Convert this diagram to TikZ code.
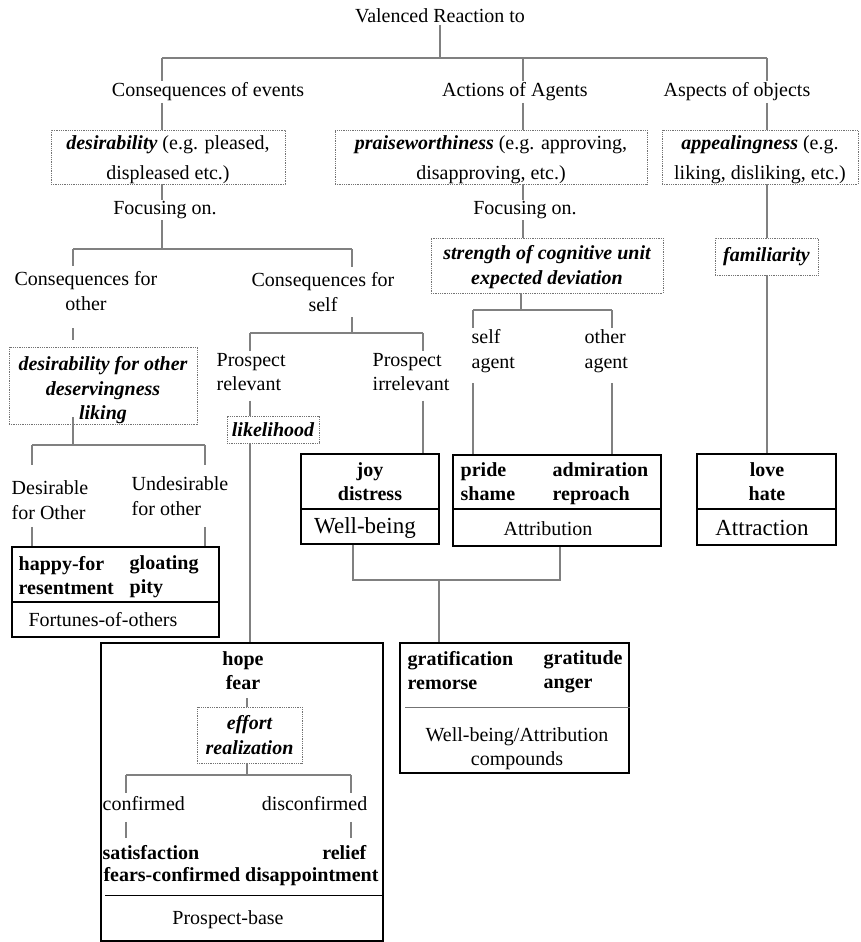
\documentclass[tikz,border=0pt]{standalone}
\usepackage{fontspec}
\setmainfont{Liberation Serif}
\begin{document}
\begin{tikzpicture}[x=1pt,y=-1pt,
  every node/.style={font=\fontsize{20}{24.5}\selectfont},
  conn/.style={draw=black!50, line width=1.1pt},
  lbl/.style={inner sep=1.5pt, align=center},
  lblL/.style={inner sep=1.5pt, align=left, anchor=west},
  lblR/.style={inner sep=1.5pt, align=right, anchor=east},
  big/.style={inner sep=1.5pt, font=\fontsize{23}{27}\selectfont},
  dotbox/.style={draw=black!55, dash pattern=on 0.9pt off 0.9pt, line width=0.7pt, inner sep=0pt, align=center},
  emobox/.style={draw=black, line width=1.8pt, inner sep=0pt},
  emo/.style={inner sep=1.5pt, font=\fontsize{20}{24}\selectfont\bfseries},
  emocol/.style={emo, align=left, anchor=west, text depth=5pt},
  divline/.style={draw=black!55, line width=1pt},
  key/.style={font=\fontsize{20}{24.5}\selectfont\bfseries\itshape}
]
\useasboundingbox (0,0) rectangle (860,942);

% ---- top level
\node[lbl] (root) at (440,16) {Valenced Reaction to};
\node[lbl] (cev) at (208,92) {Consequences of events};
\node[lbl] (aoa) at (515,92) {Actions of Agents};
\node[lbl] (aob) at (737,92) {Aspects of objects};

\node[dotbox, minimum width=234, minimum height=54] (d1) at (168,157)
  {\rule{0pt}{19pt}{\bfseries\itshape desirability} (e.g. pleased,\\[5pt]displeased etc.)};
\node[dotbox, minimum width=312, minimum height=54] (d2) at (491,157)
  {\rule{0pt}{19pt}{\bfseries\itshape praiseworthiness} (e.g. approving,\\[5pt]disapproving, etc.)};
\node[dotbox, minimum width=196, minimum height=54] (d3) at (760,157)
  {\rule{0pt}{19pt}{\bfseries\itshape appealingness} (e.g.\\[5pt]liking, disliking, etc.)};

\node[lbl] (fo1) at (165,210) {Focusing on.};
\node[lbl] (fo2) at (525,210) {Focusing on.};

% ---- events branch
\node[lbl] (cfo) at (86,291) {Consequences for\\other};
\node[lbl] (cfs) at (323,292) {Consequences for\\self};

\node[dotbox, key, minimum width=188, minimum height=73] (dother) at (103,385.5)
  {\rule{0pt}{24pt}desirability for other\\deservingness\\liking};

\node[lblL] (desO) at (10,500) {Desirable\\for Other};
\node[lblL] (undO) at (130,496) {Undesirable\\for other};

\node[emobox, minimum width=207, minimum height=55] (fot) at (115.5,574.5) {};
\node[emobox, minimum width=207, minimum height=35] (fob) at (115.5,619.5) {};
\node[emocol] (hf) at (17,577.5) {happy-for\\resentment};
\node[emocol] (gl) at (128,577.5) {gloating\\pity};
\node[lbl] (fotx) at (103,620) {Fortunes-of-others};

\node[lblL] (pr) at (215,372) {Prospect\\relevant};
\node[lblL] (pi) at (371,372) {Prospect\\irrelevant};
\node[dotbox, key, minimum width=92, minimum height=27] (lik) at (273,429.5) {likelihood};

\node[emobox, minimum width=138, minimum height=55] (wbt) at (370,481.5) {};
\node[emobox, minimum width=138, minimum height=35] (wbb) at (370,526.5) {};
\node[emo, align=center] (jd) at (370,482) {joy\\distress};
\node[big] (wbx) at (365,528) {Well-being};

% ---- agents branch
\node[dotbox, key, minimum width=232, minimum height=55] (str) at (547,265.5)
  {\rule{0pt}{17pt}strength of cognitive unit\\expected deviation};
\node[lblL] (sa) at (470,351) {self\\agent};
\node[lblL] (oa) at (583,351) {other\\agent};

\node[emobox, minimum width=208, minimum height=54] (att) at (557,482) {};
\node[emobox, minimum width=208, minimum height=37] (attb) at (557,527.5) {};
\node[emocol] (ps) at (459,484.5) {pride\\shame};
\node[emocol] (ar) at (551,484.5) {admiration\\reproach};
\node[lbl] (attx) at (548,529) {Attribution};

% ---- objects branch
\node[dotbox, key, minimum width=103, minimum height=37] (fam) at (766.5,256.5) {familiarity};
\node[emobox, minimum width=139, minimum height=55] (atr) at (766.5,481.5) {};
\node[emobox, minimum width=139, minimum height=36] (atrb) at (766.5,527) {};
\node[emo, align=center] (lh) at (767,482) {love\\hate};
\node[big] (atrx) at (762,528) {Attraction};

% ---- compounds
\node[emobox, minimum width=229, minimum height=130] (comp) at (514.5,708) {};
\node[emocol] (gr) at (406,672.5) {gratification\\remorse};
\node[emocol] (ga) at (542,672.5) {gratitude\\anger};
\node[lbl] (compx) at (517,748.5) {Well-being/Attribution\\compounds};
\coordinate (cdiv) at (405,707);
\draw[divline] (cdiv) -- (cdiv -| comp.east);

% ---- prospect-based
\node[emobox, minimum width=282, minimum height=298] (pb) at (242,792) {};
\node[emo, align=center] (hope) at (243,671) {hope\\fear};
\node[dotbox, key, minimum width=105, minimum height=56] (eff) at (249.5,735) {effort\\realization};
\node[lblL] (conf) at (101,804) {confirmed};
\node[lblR] (disc) at (369,804) {disconfirmed};
\node[emo, anchor=west] (sat) at (101,853) {satisfaction};
\node[emo, anchor=east] (rel) at (368,853) {relief};
\node[emo] (fcd) at (241,877) {fears-confirmed disappointment};
\coordinate (pdiv) at (105,895);
\draw[draw=black, line width=1pt] (pdiv) -- (pdiv -| pb.east);
\node[lbl] (pbx) at (228,920) {Prospect-base};

% ---- junction points
\coordinate (j0) at (440,58);
\coordinate (jL) at (162,58);
\coordinate (jM) at (523,58);
\coordinate (jR) at (767,58);
\coordinate (jF) at (162,249);
\coordinate (jFo) at (73,249);
\coordinate (jFs) at (352,249);
\coordinate (jS) at (352,333);
\coordinate (jSr) at (250,333);
\coordinate (jSi) at (423,333);
\coordinate (jO) at (73,445);
\coordinate (jOl) at (32,445);
\coordinate (jOr) at (205,445);
\coordinate (jA) at (521,310);
\coordinate (jAs) at (473,310);
\coordinate (jAo) at (612,310);
\coordinate (jC) at (439,580);
\coordinate (jC1) at (353,580);
\coordinate (jC2) at (560,580);
\coordinate (jH) at (247,698);
\coordinate (jE) at (247,775);
\coordinate (jEc) at (126,775);
\coordinate (jEd) at (351,775);

% ---- connectors
\draw[conn] (root.south) -- (j0);
\draw[conn] (jL) -- (jR);
\draw[conn] (jL) -- (jL |- cev.north);
\draw[conn] (jL |- cev.south) -- (jL |- d1.north);
\draw[conn] (jM) -- (jM |- aoa.north);
\draw[conn] (jM |- aoa.south) -- (jM |- d2.north);
\draw[conn] (jR) -- (jR |- aob.north);
\draw[conn] (jR |- aob.south) -- (jR |- d3.north);

\draw[conn] (jL |- d1.south) -- (jL |- fo1.north);
\draw[conn] (jL |- fo1.south) -- (jF);
\draw[conn] (jFo) -- (jFs);
\draw[conn,shorten >=4pt] (jFo) -- (jFo |- cfo.north);
\draw[conn,shorten <=16pt,shorten >=7pt] (jFo |- cfo.south) -- (jFo |- dother.north);
\draw[conn,shorten >=4pt] (jFs) -- (jFs |- cfs.north);
\draw[conn,shorten <=4pt] (jFs |- cfs.south) -- (jS);
\draw[conn] (jSr) -- (jSi);
\draw[conn] (jSr) -- (jSr |- pr.north);
\draw[conn] (jSi) -- (jSi |- pi.north);
\draw[conn,shorten <=8pt] (jSr |- pr.south) -- (jSr |- lik.north);
\draw[conn] (jSr |- lik.south) -- (jSr |- pb.north);
\draw[conn,shorten <=8pt] (jSi |- pi.south) -- (jSi |- wbt.north);

\draw[conn,shorten <=-7pt] (jFo |- dother.south) -- (jO);
\draw[conn] (jOl) -- (jOr);
\draw[conn,shorten >=14pt] (jOl) -- (jOl |- desO.north);
\draw[conn,shorten >=10pt] (jOr) -- (jOr |- undO.north);
\draw[conn,shorten <=6pt] (jOl |- desO.south) -- (jOl |- fot.north);
\draw[conn,shorten <=10pt] (jOr |- undO.south) -- (jOr |- fot.north);

\draw[conn] (jM |- d2.south) -- (jM |- fo2.north);
\draw[conn] (jM |- fo2.south) -- (jM |- str.north);
\draw[conn] (jA |- str.south) -- (jA);
\draw[conn] (jAs) -- (jAo);
\draw[conn] (jAs) -- (jAs |- sa.north);
\draw[conn] (jAo) -- (jAo |- oa.north);
\draw[conn,shorten <=9pt] (jAs |- sa.south) -- (jAs |- att.north);
\draw[conn,shorten <=9pt] (jAo |- oa.south) -- (jAo |- att.north);

\draw[conn] (jR |- d3.south) -- (jR |- fam.north);
\draw[conn] (jR |- fam.south) -- (jR |- atr.north);

\draw[conn] (jC1 |- wbb.south) -- (jC1) -- (jC2) -- (jC2 |- attb.south);
\draw[conn] (jC) -- (jC |- comp.north);

\draw[conn] (jH) -- (jH |- eff.north);
\draw[conn] (jH |- eff.south) -- (jE);
\draw[conn] (jEc) -- (jEd);
\draw[conn,shorten >=2pt] (jEc) -- (jEc |- conf.north);
\draw[conn,shorten >=2pt] (jEd) -- (jEd |- disc.north);
\draw[conn,shorten <=9pt,shorten >=6pt] (jEc |- conf.south) -- (jEc |- sat.north);
\draw[conn,shorten <=9pt,shorten >=6pt] (jEd |- disc.south) -- (jEd |- rel.north);
\end{tikzpicture}
\end{document}
